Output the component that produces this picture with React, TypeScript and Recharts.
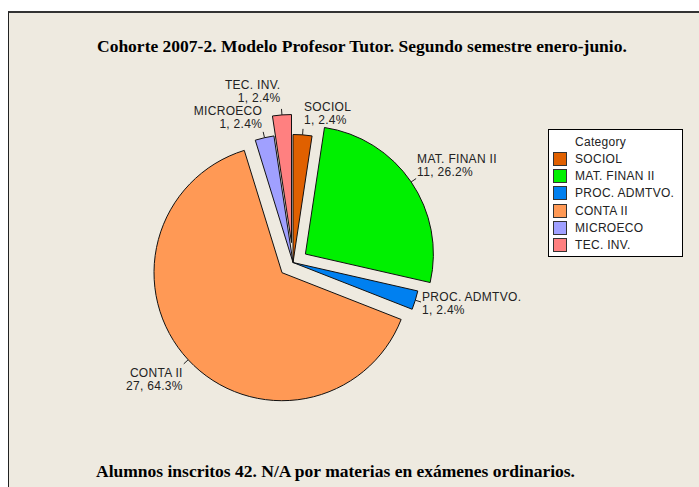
import React from 'react';
import { PieChart, Pie, Cell, Legend } from 'recharts';

const categories = ['SOCIOL', 'MAT. FINAN II', 'PROC. ADMTVO.', 'CONTA II', 'MICROECO', 'TEC. INV.'];
const counts = [1, 11, 1, 27, 1, 1];
const colors = ['#E06000', '#00F000', '#0080F0', '#FF9955', '#A0A0FF', '#FF8080'];
const explodeDistance = [0, 15, 0, 15, 0, 20];
const labelNudgeY = [0, -3, 0, 10, 1.5, -1.5];
const titleText = 'Cohorte 2007-2. Modelo Profesor Tutor. Segundo semestre enero-junio.';
const footerText = 'Alumnos inscritos 42. N/A por materias en exámenes ordinarios.';
const legendTitle = 'Category';

const rows = categories.map((name, i) => ({ name, value: counts[i] }));
const total = counts.reduce((a, b) => a + b, 0);

const CX = 293;
const CY = 262.5;
const R = 128;
const START = 90;
const END = -270;
const RAD = Math.PI / 180;

const midAngles = counts.map((v, i) => {
  const before = counts.slice(0, i).reduce((a, b) => a + b, 0);
  return START - (360 * (before + v / 2)) / total;
});

const labelFont = '"Liberation Sans", Arial, sans-serif';

function makeLabel(target: number) {
  return (p: any) => {
    const idx = p.index !== undefined ? p.index : categories.indexOf(p.name);
    if (idx !== target) return null;
    const { cx, cy, midAngle, outerRadius } = p;
    const c = Math.cos(-midAngle * RAD);
    const s = Math.sin(-midAngle * RAD);
    const sx = cx + outerRadius * c;
    const sy = cy + outerRadius * s;
    const ex = cx + (outerRadius + 6) * c;
    const ey = cy + (outerRadius + 6) * s;
    const right = c >= 0;
    const tx = ex + (right ? 1 : -1);
    const yc = ey - 3 + 13 * s + labelNudgeY[target];
    const v = counts[target];
    const pct = ((v / total) * 100).toFixed(1);
    const common = {
      x: tx,
      textAnchor: right ? 'start' : 'end',
      fontFamily: labelFont,
      fontSize: 12,
      letterSpacing: 0.3,
      fill: '#222',
    } as any;
    return (
      <g>
        <line x1={sx} y1={sy} x2={ex} y2={ey} stroke="#222" strokeWidth={1} />
        <text {...common} y={yc - 6.5 + 4.3}>{categories[target]}</text>
        <text {...common} y={yc + 6.5 + 4.3}>{`${v}, ${pct}%`}</text>
      </g>
    );
  };
}

function LegendBox() {
  return (
    <div
      style={{
        width: 135,
        height: 128,
        boxSizing: 'border-box',
        border: '1px solid #000',
        background: '#fff',
        fontFamily: labelFont,
        fontSize: 12,
        letterSpacing: 0.3,
        color: '#222',
        position: 'relative',
      }}
    >
      <div style={{ position: 'absolute', left: 26, top: 5, lineHeight: '14px', whiteSpace: 'nowrap' }}>{legendTitle}</div>
      {categories.map((name, i) => (
        <div key={name}>
          <div
            style={{
              position: 'absolute',
              left: 4,
              top: 29 + i * 17.2 - 7,
              width: 14,
              height: 14,
              boxSizing: 'border-box',
              border: '1px solid #333',
              background: colors[i],
            }}
          />
          <div
            style={{
              position: 'absolute',
              left: 26,
              top: 29 + i * 17.2 - 7,
              lineHeight: '14px',
              whiteSpace: 'nowrap',
            }}
          >
            {name}
          </div>
        </div>
      ))}
    </div>
  );
}

export default function App() {
  return (
    <div style={{ position: 'absolute', left: 0, top: 0, width: 699, height: 487, background: '#fff', overflow: 'hidden' }}>
      <div
        style={{
          position: 'absolute',
          left: 8,
          top: 11,
          width: 700,
          height: 490,
          background: '#EEEAE0',
          borderLeft: '1px solid #222',
          borderTop: '2px solid #333',
        }}
      />
      <div style={{ position: 'absolute', left: 0, top: 0 }}>
        <PieChart width={699} height={487} margin={{ top: 0, right: 0, bottom: 0, left: 0 }}>
          <text x={97} y={52} fontFamily='"Liberation Serif", "Times New Roman", serif' fontWeight="bold" fontSize={17.5} fill="#000">
            {titleText}
          </text>
          <text x={96} y={477} fontFamily='"Liberation Serif", "Times New Roman", serif' fontWeight="bold" fontSize={17.5} fill="#000">
            {footerText}
          </text>
          {categories.map((name, i) => {
            const d = explodeDistance[i];
            const dx = d * Math.cos(-midAngles[i] * RAD);
            const dy = d * Math.sin(-midAngles[i] * RAD);
            return (
              <Pie
                key={name}
                data={rows}
                dataKey="value"
                nameKey="name"
                cx={CX + dx}
                cy={CY + dy}
                outerRadius={R}
                innerRadius={0}
                startAngle={START}
                endAngle={END}
                isAnimationActive={false}
                labelLine={false}
                label={makeLabel(i)}
                legendType="none"
              >
                {rows.map((r, j) => (
                  <Cell
                    key={r.name}
                    fill={j === i ? colors[j] : 'none'}
                    stroke={j === i ? '#111' : 'none'}
                    strokeWidth={1}
                  />
                ))}
              </Pie>
            );
          })}
          <Legend
            layout="vertical"
            align="right"
            verticalAlign="top"
            wrapperStyle={{ left: 548, top: 129, width: 135, height: 128 }}
            content={() => <LegendBox />}
          />
        </PieChart>
      </div>
    </div>
  );
}
